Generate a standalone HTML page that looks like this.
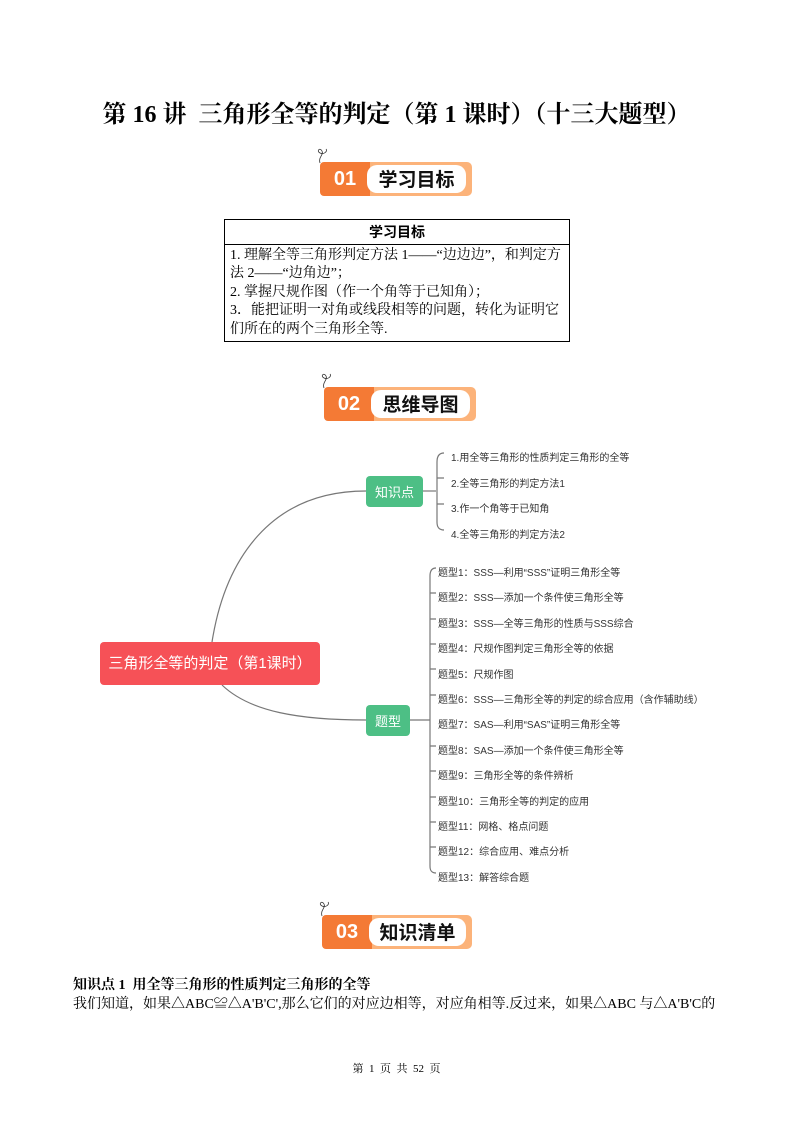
<!DOCTYPE html>
<html><head><meta charset="utf-8">
<style>
body{margin:0;background:#fff;}
.pg{position:relative;width:793px;height:1122px;overflow:hidden;font-family:"Liberation Serif","Noto Serif CJK SC",serif;color:#000;}
.a{position:absolute;white-space:nowrap;}
.title{left:0;width:793px;text-align:center;top:94px;font-size:24px;font-weight:bold;}
.ban{position:absolute;height:38px;}
.ban .o{position:absolute;left:0;top:4px;width:50px;height:34px;background:#f47a35;border-radius:4px 0 0 4px;color:#fff;font:bold 20px "Liberation Sans","Noto Sans CJK SC",sans-serif;line-height:34px;text-align:center;}
.ban .l{position:absolute;left:40px;top:4px;right:0;height:34px;background:#fcb37a;border-radius:5px;}
.ban .w{position:absolute;left:47px;top:7px;right:6px;height:28px;background:#fff;border-radius:10px;font:bold 19px "Noto Sans CJK SC",sans-serif;line-height:28px;text-align:center;color:#111;}
table{position:absolute;left:224px;top:219px;width:346px;border-collapse:collapse;font-size:14px;}
td{border:1px solid #000;padding:2px 5px;line-height:18.4px;}
.mm{font-family:"Liberation Sans","Noto Sans CJK SC",sans-serif;font-size:10px;color:#333;}
</style></head><body><div class="pg">
<div class="a title">第 16 讲&nbsp; 三角形全等的判定（第 1 课时）（十三大题型）</div>

<div class="ban" style="left:320px;top:158px;width:152px;"><div class="l"></div><div class="o">01</div><div class="w">学习目标</div></div>
<svg class="a" style="left:314px;top:145px" width="20" height="20"><path d="M6 18 C4 12 10 10 8 6 C6 2 2 6 6 8 C10 10 14 6 12 4" stroke="#333" fill="none" stroke-width="0.8"/></svg>

<table>
<tr><td style="text-align:center;font-weight:bold;font-family:'Noto Sans CJK SC',sans-serif;height:20px;">学习目标</td></tr>
<tr><td>1. 理解全等三角形判定方法 1——“边边边”，和判定方法 2——“边角边”；<br>2. 掌握尺规作图（作一个角等于已知角）；<br>3．能把证明一对角或线段相等的问题，转化为证明它们所在的两个三角形全等.</td></tr>
</table>

<div class="ban" style="left:324px;top:383px;width:152px;"><div class="l"></div><div class="o">02</div><div class="w">思维导图</div></div>
<svg class="a" style="left:318px;top:370px" width="20" height="20"><path d="M6 18 C4 12 10 10 8 6 C6 2 2 6 6 8 C10 10 14 6 12 4" stroke="#333" fill="none" stroke-width="0.8"/></svg>

<svg class="a" style="left:0;top:0" width="793" height="1122">
<g fill="none" stroke="#777" stroke-width="1.2">
<path d="M212 642 C225 560 270 491 366 491"/>
<path d="M222 685 C250 712 300 720 366 720"/>
<path d="M423 491 H436"/>
<path d="M444 453 C438 453 437 458 437 462 V522 C437 526 438 530 444 530"/>
<path d="M437 478 C437 478 438 478 444 478 M437 504 H444"/>
<path d="M410 720 H430"/>
<path d="M436 568 C431 568 430 572 430 576 V866 C430 870 431 873 436 873"/>
<path d="M430 593 Q430 593 436 593 M430 619 H436 M430 644 H436 M430 669 H436 M430 695 H436 M430 746 H436 M430 771 H436 M430 797 H436 M430 822 H436 M430 847 H436"/>
</g>
<rect x="100" y="642" width="220" height="43" rx="4" fill="#f65157"/>
<rect x="366" y="476" width="57" height="31" rx="4" fill="#4dbf85"/>
<rect x="366" y="705" width="44" height="31" rx="4" fill="#4dbf85"/>
</svg>
<div class="a" style="left:100px;top:642px;width:220px;line-height:43px;text-align:center;color:#fff;font:15px 'Liberation Sans','Noto Sans CJK SC',sans-serif;line-height:43px;">三角形全等的判定（第1课时）</div>
<div class="a" style="left:366px;top:476px;width:57px;text-align:center;color:#fff;font:13px 'Noto Sans CJK SC',sans-serif;line-height:31px;">知识点</div>
<div class="a" style="left:366px;top:705px;width:44px;text-align:center;color:#fff;font:13px 'Noto Sans CJK SC',sans-serif;line-height:31px;">题型</div>

<div class="a mm" style="left:451px;top:446px;line-height:25.5px;">1.用全等三角形的性质判定三角形的全等<br>2.全等三角形的判定方法1<br>3.作一个角等于已知角<br>4.全等三角形的判定方法2</div>
<div class="a mm" style="left:438px;top:561px;line-height:25.4px;">题型1：SSS—利用“SSS”证明三角形全等<br>题型2：SSS—添加一个条件使三角形全等<br>题型3：SSS—全等三角形的性质与SSS综合<br>题型4：尺规作图判定三角形全等的依据<br>题型5：尺规作图<br>题型6：SSS—三角形全等的判定的综合应用（含作辅助线）<br>题型7：SAS—利用“SAS”证明三角形全等<br>题型8：SAS—添加一个条件使三角形全等<br>题型9：三角形全等的条件辨析<br>题型10：三角形全等的判定的应用<br>题型11：网格、格点问题<br>题型12：综合应用、难点分析<br>题型13：解答综合题</div>

<div class="ban" style="left:322px;top:911px;width:150px;"><div class="l"></div><div class="o">03</div><div class="w">知识清单</div></div>
<svg class="a" style="left:316px;top:898px" width="20" height="20"><path d="M6 18 C4 12 10 10 8 6 C6 2 2 6 6 8 C10 10 14 6 12 4" stroke="#333" fill="none" stroke-width="0.8"/></svg>

<div class="a" style="left:73px;top:974px;font-size:14px;font-weight:bold;">知识点 1&nbsp; 用全等三角形的性质判定三角形的全等</div>
<div class="a" style="left:73px;top:993px;font-size:14px;">我们知道，如果△ABC≌△A'B'C',那么它们的对应边相等，对应角相等.反过来，如果△ABC 与△A'B'C的</div>
<div class="a" style="left:0;width:793px;text-align:center;top:1060px;font-size:11px;">第&nbsp; 1&nbsp; 页&nbsp; 共&nbsp; 52&nbsp; 页</div>
</div></body></html>
